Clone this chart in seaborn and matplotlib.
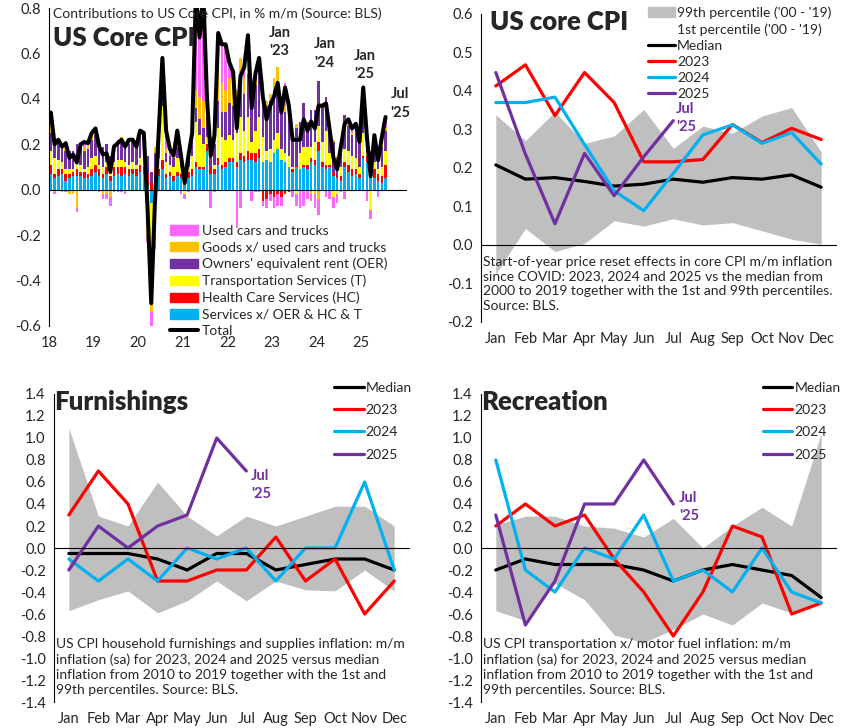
import numpy as np
import matplotlib
matplotlib.use("Agg")
import matplotlib.pyplot as plt
from matplotlib.patches import Patch
from matplotlib.lines import Line2D
import seaborn as sns

#  Style, then fonts (set_style resets font.family)
sns.set_style("white")
plt.rcParams['font.family'] = ['Lato', 'DejaVu Sans']
plt.rcParams['axes.linewidth'] = 0.8

#%%
#  Data: contributions to US core CPI m/m, Jan 2018 - Jul 2025
year_labels = ['18', '19', '20', '21', '22', '23', '24', '25']

services = [
    .07, .05, .06, .07, .04, .05, .06, .06, .06, .05, .05, .06,
    .08, .06, .05, .07, .04, .06, .07, .06, .07, .06, .07, .06,
    .08, .07, .02, -.06, .06, .06, .09, .05, .06, .04, .06, .05,
    .02, .05, .06, .10, .09, .09, .17, .07, .07, .11, .09, .10,
    .12, .12, .10, .13, .12, .13, .13, .12, .14, .12, .13, .12,
    .16, .18, .13, .12, .10, .08, .10, .09, .10, .09, .12, .11,
    .17, .10, .09, .10, .06, .05, .04, .10, .08, .06, .07, .05,
    .14, .12, .05, .05, .04, .03, .05]
health = [
    .04, .02, .03, .02, .03, .02, .02, .03, .02, .03, .02, .03,
    .03, .03, .02, .03, .02, .04, .03, .04, .03, .03, .02, .03,
    .03, .03, .05, .03, .04, .03, .04, .02, .02, .02, .02, .02,
    .01, .03, .03, .02, .01, .01, .03, .03, .02, .03, .02, .02,
    .02, .02, .02, .03, .03, .04, .03, .04, .04, -.05, -.04, -.02,
    -.03, -.02, -.03, -.02, -.01, .01, .01, .00, .01, .02, .02, .02,
    .04, .02, .02, .01, .02, .01, .02, .02, .03, .03, .02, .02,
    .01, .03, .02, .04, .03, .03, .06]
transport = [
    .06, .07, .04, .03, .02, .02, .01, .03, .03, .01, .03, .05,
    .04, .02, .03, .02, .01, .02, .03, .03, .02, .02, .03, .02,
    .03, .04, -.12, -.44, -.04, .05, .24, .05, .03, .04, .06, .03,
    -.02, .02, .06, .18, .14, .10, .03, .00, .02, .13, .12, .10,
    .10, .08, .13, .16, .11, .15, .05, .10, .14, .11, .04, .06,
    .06, .07, .05, .04, .05, .01, -.02, .07, .08, .08, .05, .08,
    .07, .09, .15, .05, -.03, -.02, .04, .06, .06, .06, .05, .03,
    .10, .01, -.09, .03, .02, .04, .06]
oer = [
    .08, .08, .08, .08, .08, .08, .08, .08, .08, .08, .08, .08,
    .09, .09, .09, .08, .08, .08, .09, .09, .09, .09, .09, .08,
    .09, .08, .08, .05, .06, .06, .07, .04, .04, .04, .05, .05,
    .04, .05, .06, .06, .07, .07, .09, .08, .09, .12, .11, .12,
    .14, .15, .13, .15, .16, .19, .17, .20, .22, .20, .20, .21,
    .22, .23, .21, .18, .18, .15, .16, .14, .19, .11, .16, .14,
    .20, .16, .15, .13, .13, .08, .10, .15, .11, .09, .11, .10,
    .12, .11, .10, .10, .07, .09, .09]
goods = [
    .05, -.01, .01, -.01, .04, -.02, -.02, -.08, .01, .02, .03, .02,
    .02, .00, -.02, -.02, -.03, .00, .00, .01, -.01, .01, .00, .00,
    .02, .02, -.08, -.04, .03, .02, .05, .02, .00, .01, .03, .02,
    .00, .01, .02, .08, .10, .12, .06, .05, .05, .17, .13, .10,
    .11, .12, .06, .11, .07, .08, .03, .06, .05, .05, .02, .03,
    .05, .06, .02, .03, .02, .00, .02, .00, .00, .00, -.02, -.02,
    -.04, .00, .00, .01, .01, .01, .00, -.01, .02, .01, .01, .00,
    .05, .01, .00, .02, .00, .04, .01]
used_cars = [
    .04, -.01, .00, .00, -.01, .00, .00, -.02, .00, .02, .00, .01,
    .01, -.01, -.02, -.02, -.04, -.01, -.01, -.01, -.01, .01, .01, .00,
    .01, .01, -.03, -.06, -.22, .02, .09, .08, .03, .00, .04, -.02,
    -.02, -.01, .02, .42, .26, .47, .02, -.08, -.01, .13, .17, .20,
    .07, .03, -.17, -.08, .05, .09, -.05, -.01, -.01, -.02, -.04, -.03,
    -.05, -.05, -.04, .10, .03, -.03, -.05, -.08, -.07, -.04, -.03, -.06,
    -.07, .00, -.03, -.04, -.05, -.04, -.01, -.03, .01, .02, .03, .01,
    .03, -.05, -.04, .00, -.03, .00, .05]
total = [
    .34, .20, .22, .19, .205, .14, .155, .12, .20, .21, .205, .25,
    .27, .19, .155, .16, .08, .19, .205, .22, .19, .22, .22, .19,
    .26, .25, -.08, -.50, -.05, .25, .58, .26, .18, .15, .26, .15,
    .03, .15, .25, .86, .67, .86, .40, .15, .24, .69, .64, .64,
    .56, .52, .27, .50, .54, .68, .36, .51, .58, .41, .31, .37,
    .41, .47, .34, .45, .37, .22, .22, .22, .31, .26, .30, .27,
    .37, .37, .38, .26, .14, .09, .19, .29, .31, .27, .29, .21,
    .45, .23, .06, .24, .13, .23, .32]

months = ['Jan', 'Feb', 'Mar', 'Apr', 'May', 'Jun', 'Jul', 'Aug', 'Sep', 'Oct', 'Nov', 'Dec']

#  US core CPI seasonal pattern
core_p99 = [.338, .271, .346, .264, .283, .352, .251, .309, .290, .335, .357, .242]
core_p1 = [-.075, .043, -.017, .004, .063, .049, .068, .052, .058, .037, .015, .002]
core_med = [.208, .171, .175, .165, .153, .158, .171, .163, .175, .171, .182, .150]
core_2023 = [.413, .468, .336, .448, .370, .216, .216, .222, .313, .266, .303, .274]
core_2024 = [.370, .370, .384, .261, .141, .089, .186, .286, .312, .264, .292, .210]
core_2025 = [.448, .236, .055, .238, .128, .229, .323]

#  Furnishings
furn_p99 = [1.09, .29, .20, .60, .29, .11, .29, .20, .29, .38, .38, .20]
furn_p1 = [-.57, -.47, -.39, -.59, -.48, -.30, -.48, -.30, -.38, -.39, -.20, -.39]
furn_med = [-.05, -.05, -.05, -.10, -.20, -.05, -.05, -.20, -.15, -.10, -.10, -.20]
furn_2023 = [.3, .7, .4, -.3, -.3, -.2, -.2, .1, -.3, -.1, -.6, -.3]
furn_2024 = [-.1, -.3, -.1, -.3, 0.0, -.1, 0.0, -.3, 0.0, 0.0, .6, -.2]
furn_2025 = [-.2, .2, 0.0, .2, .3, 1.0, .7]

#  Recreation
rec_p99 = [.21, .29, .29, .20, .18, .10, .27, 0.0, .20, .37, .20, 1.04]
rec_p1 = [-.57, -.66, -.32, -.47, -.79, -.86, -.74, -.60, -.70, -.50, -.59, -.50]
rec_med = [-.20, -.10, -.15, -.15, -.15, -.20, -.30, -.20, -.15, -.20, -.25, -.45]
rec_2023 = [.2, .4, .2, .3, -.1, -.4, -.8, -.4, .2, .1, -.6, -.5]
rec_2024 = [.8, -.2, -.4, 0.0, -.1, .3, -.3, -.2, -.4, 0.0, -.4, -.5]
rec_2025 = [.3, -.7, -.3, .4, .4, .8, .4]

#%%
#  Colours
c_used = '#FF66FF'
c_goods = '#FFC000'
c_oer = '#7030A0'
c_trans = '#FFFF00'
c_hc = '#FF0000'
c_serv = '#00B0F0'
c_band = '#BFBFBF'
FS = 10

fig = plt.figure(figsize=(8.43, 7.28), dpi=100)

#%%
##  Top left: stacked contributions
ax = fig.add_axes([0.0581, 0.5522, 0.4235, 0.4368])
n = len(total)
x = np.arange(n)
pos_base = np.zeros(n)
neg_base = np.zeros(n)
comps = [(services, c_serv), (health, c_hc), (transport, c_trans),
         (oer, c_oer), (goods, c_goods), (used_cars, c_used)]
for vals, col in comps:
    v = np.array(vals)
    pos = np.where(v > 0, v, 0)
    neg = np.where(v < 0, v, 0)
    ax.bar(x, pos, bottom=pos_base, width=0.68, color=col, lw=0)
    ax.bar(x, neg, bottom=neg_base, width=0.68, color=col, lw=0)
    pos_base += pos
    neg_base += neg

sns.lineplot(x=x, y=total, ax=ax, color='black', lw=2.9)

ax.set_xlim(-0.5, 95.5)
ax.set_ylim(-0.6, 0.8)
ax.set_yticks(np.arange(-0.6, 0.81, 0.2))
ax.set_yticklabels([f'{v:.1f}' for v in np.arange(-0.6, 0.81, 0.2)], fontsize=10.5)
for s in ['top', 'right']:
    ax.spines[s].set_visible(False)
ax.spines['bottom'].set_position(('data', 0))
ax.spines['left'].set_color('black')
ax.spines['bottom'].set_color('black')
ax.set_xticks(np.arange(-0.5, 96, 12).tolist() + [95.5])
ax.tick_params(axis='x', labelbottom=False, direction='out', length=4, width=0.8, color='black')
ax.tick_params(axis='y', direction='out', length=4, width=0.8, color='black', pad=2)
sec = ax.secondary_xaxis('bottom')
sec.set_xticks(np.arange(-0.5, 95, 12), labels=year_labels, fontsize=10.5)
sec.tick_params(length=0, pad=7)
sec.spines['bottom'].set_visible(False)

ax.text(0.011, 0.981, 'Contributions to US Core CPI, in % m/m (Source: BLS)',
        transform=ax.transAxes, fontsize=10, va='center', ha='left')
ax.text(0.011, 0.905, 'US Core CPI', transform=ax.transAxes, fontsize=18.5,
        fontweight='heavy', va='center', ha='left')
for lab, xm, ym in [("Jan\n'23", 61.5, 0.65), ("Jan\n'24", 73.6, 0.60),
                    ("Jan\n'25", 84.4, 0.55), ("Jul\n'25", 94.0, 0.38)]:
    ax.text(xm, ym, lab, fontsize=10.5, fontweight='bold', ha='center', va='center',
            linespacing=1.4)

handles = [Patch(color=c_used, label='Used cars and trucks'),
           Patch(color=c_goods, label='Goods x/ used cars and trucks'),
           Patch(color=c_oer, label="Owners' equivalent rent (OER)"),
           Patch(color=c_trans, label='Transportation Services (T)'),
           Patch(color=c_hc, label='Health Care Services (HC)'),
           Patch(color=c_serv, label='Services x/ OER & HC & T'),
           Line2D([], [], color='black', lw=2.9, label='Total')]
ax.legend(handles=handles, loc='upper left', bbox_to_anchor=(0.34, 0.318),
          frameon=False, fontsize=FS, handlelength=2.0, handletextpad=0.25,
          labelspacing=0.32, borderpad=0, borderaxespad=0)


#%%
##  Monthly panels
def month_panel(rect, p1, p99, med, y23, y24, y25, ylim, step, title, note,
                jul_xy, legend_anchor, band_in_legend, note_y, note_ls):
    ax = fig.add_axes(rect)
    mx = np.arange(12)
    ax.fill_between(mx, p1, p99, color=c_band, lw=0)
    sns.lineplot(x=mx, y=med, ax=ax, color='black', lw=2.3)
    sns.lineplot(x=mx, y=y23, ax=ax, color=c_hc, lw=2.3)
    sns.lineplot(x=mx, y=y24, ax=ax, color=c_serv, lw=2.3)
    sns.lineplot(x=np.arange(len(y25)), y=y25, ax=ax, color=c_oer, lw=2.3)

    ax.set_xlim(-0.5, 11.5)
    ax.set_ylim(*ylim)
    ticks = np.arange(ylim[0], ylim[1] + step / 2, step)
    ax.set_yticks(ticks)
    ax.set_yticklabels([f'{v:.1f}' if abs(v) > 1e-9 else '0.0' for v in ticks], fontsize=10.5)
    for s in ['top', 'right']:
        ax.spines[s].set_visible(False)
    ax.spines['bottom'].set_position(('data', 0))
    ax.spines['left'].set_color('black')
    ax.spines['bottom'].set_color('black')
    ax.set_xticks(np.arange(-0.5, 12, 1))
    ax.tick_params(axis='x', labelbottom=False, direction='out', length=4, width=0.8, color='black')
    ax.tick_params(axis='y', direction='out', length=4, width=0.8, color='black', pad=2)
    sec = ax.secondary_xaxis('bottom')
    sec.set_xticks(mx, labels=months, fontsize=10.5)
    sec.tick_params(length=0, pad=7)
    sec.spines['bottom'].set_visible(False)

    ax.text(title[1], title[2], title[0], transform=ax.transAxes, fontsize=18.5,
            fontweight='heavy', va='center', ha='left')
    ax.text(0.006, note_y, note, transform=ax.transAxes, fontsize=FS, va='top',
            ha='left', linespacing=note_ls)
    ax.text(jul_xy[0], jul_xy[1], "Jul\n'25", color=c_oer, fontsize=10.5,
            fontweight='bold', ha='left', va='center', linespacing=1.4)

    handles = []
    if band_in_legend:
        handles += [Patch(color=c_band, label="99th percentile ('00 - '19)"),
                    Patch(color='none', label="1st percentile ('00 - '19)")]
    handles += [Line2D([], [], color='black', lw=2.3, label='Median'),
                Line2D([], [], color=c_hc, lw=2.3, label='2023'),
                Line2D([], [], color=c_serv, lw=2.3, label='2024'),
                Line2D([], [], color=c_oer, lw=2.3, label='2025')]
    ax.legend(handles=handles, loc='upper left', bbox_to_anchor=legend_anchor,
              frameon=False, fontsize=FS, handlelength=1.95 if band_in_legend else 2.1,
              handletextpad=0.15, labelspacing=0.3 if band_in_legend else 0.74,
              borderpad=0, borderaxespad=0)
    return ax


month_panel([0.5706, 0.5577, 0.4211, 0.4231], core_p1, core_p99, core_med,
            core_2023, core_2024, core_2025, (-0.2, 0.6), 0.1,
            ('US core CPI', 0.025, 0.975),
            "Start-of-year price reset effects in core CPI m/m inflation\n"
            "since COVID: 2023, 2024 and 2025 vs the median from\n"
            "2000 to 2019 together with the 1st and 99th percentiles.\n"
            "Source: BLS.",
            (6.1, 0.33), (0.47, 1.025), True, 0.214, 1.25)

month_panel([0.0641, 0.0357, 0.4211, 0.4231], furn_p1, furn_p99, furn_med,
            furn_2023, furn_2024, furn_2025, (-1.4, 1.4), 0.2,
            ('Furnishings', 0.0, 0.975),
            "US CPI household furnishings and supplies inflation: m/m\n"
            "inflation (sa) for 2023, 2024 and 2025 versus median\n"
            "inflation from 2010 to 2019 together with the 1st and\n"
            "99th percentiles. Source: BLS.",
            (6.15, 0.57), (0.79, 1.04), False, 0.208, 1.32)

month_panel([0.5706, 0.0357, 0.4211, 0.4231], rec_p1, rec_p99, rec_med,
            rec_2023, rec_2024, rec_2025, (-1.4, 1.4), 0.2,
            ('Recreation', 0.0, 0.975),
            "US CPI transportation x/ motor fuel inflation: m/m\n"
            "inflation (sa) for 2023, 2024 and 2025 versus median\n"
            "inflation from 2010 to 2019 together with the 1st and\n"
            "99th percentiles. Source: BLS.",
            (6.2, 0.375), (0.795, 1.04), False, 0.208, 1.32)

plt.savefig('out.png', dpi=100)
